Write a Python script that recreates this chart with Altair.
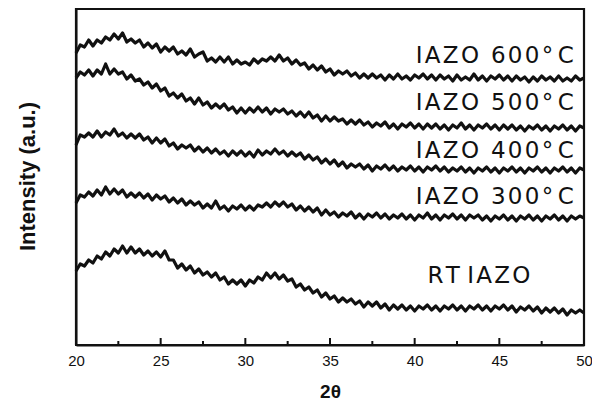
import altair as alt
import pandas as pd

# 2-theta grid: 20.00 .. 50.00 in 0.25 steps (121 points)
STEP = 0.25
X_START = 20.0

# Intensities (a.u.), one row per degree (x.00, x.25, x.50, x.75)
rt = [74, 81, 79, 85,   82, 89, 86, 93,   89, 96, 92, 99,   92, 98, 92, 96,
      90, 94, 89, 93,   88, 94, 85, 85,   77, 81, 75, 79,   72, 76, 70, 73,
      68, 72, 65, 68,   61, 65, 61, 65,   59, 65, 62, 68,   65, 72, 67, 72,
      66, 70, 64, 66,   58, 61, 55, 58,   52, 55, 48, 52,   46, 49, 43, 47,
      43, 46, 41, 44,   38, 43, 39, 43,   37, 41, 35, 40,   36, 40, 35, 39,
      34, 39, 36, 40,   35, 39, 34, 39,   36, 40, 35, 39,   34, 39, 36, 40,
      35, 39, 34, 39,   36, 40, 35, 39,   33, 38, 35, 39,   34, 38, 32, 37,
      33, 37, 32, 36,   30, 35, 32, 35,   32]
iazo300 = [142, 150, 148, 153,   149, 155, 150, 158,   151, 156, 151, 155,   148, 152, 148, 152,
           147, 151, 145, 150,   146, 149, 143, 147,   142, 146, 140, 144,   140, 143, 137, 141,
           137, 144, 136, 139,   134, 139, 136, 140,   135, 139, 135, 140,   138, 142, 138, 143,
           139, 143, 138, 141,   135, 139, 134, 138,   133, 137, 130, 135,   130, 133, 128, 132,
           129, 133, 127, 131,   126, 131, 128, 132,   127, 131, 126, 130,   127, 131, 126, 130,
           125, 130, 127, 132,   126, 130, 125, 130,   127, 131, 126, 130,   125, 130, 127, 130,
           125, 129, 124, 129,   126, 130, 125, 129,   124, 129, 126, 130,   125, 129, 124, 129,
           126, 130, 125, 129,   124, 129, 126, 129,   127]
iazo400 = [200, 210, 208, 212,   208, 214, 208, 213,   210, 216, 209, 212,   207, 211, 207, 211,
           205, 208, 202, 207,   202, 206, 199, 202,   196, 200, 197, 200,   194, 198, 193, 197,
           192, 196, 191, 194,   189, 194, 190, 194,   189, 193, 188, 195,   190, 194, 191, 196,
           191, 194, 189, 193,   189, 192, 186, 190,   185, 188, 182, 186,   181, 185, 179, 183,
           177, 181, 178, 181,   176, 180, 174, 179,   176, 180, 175, 179,   174, 178, 175, 179,
           174, 178, 173, 178,   175, 179, 174, 178,   173, 177, 174, 178,   173, 177, 172, 177,
           174, 178, 173, 177,   172, 177, 174, 178,   173, 177, 172, 177,   174, 178, 173, 177,
           172, 177, 174, 178,   173, 177, 172, 177,   175]
iazo500 = [267, 273, 270, 275,   269, 275, 271, 281,   271, 276, 271, 273,   266, 270, 264, 266,
           260, 263, 257, 261,   254, 257, 249, 252,   247, 251, 244, 247,   241, 247, 240, 243,
           237, 241, 237, 241,   235, 238, 232, 237,   232, 237, 233, 238,   233, 237, 231, 236,
           233, 236, 231, 234,   229, 233, 228, 233,   227, 230, 224, 229,   224, 228, 224, 226,
           221, 225, 221, 225,   220, 223, 218, 222,   219, 223, 217, 221,   216, 221, 218, 222,
           217, 221, 216, 221,   217, 221, 216, 220,   215, 220, 217, 222,   216, 220, 215, 220,
           217, 221, 216, 220,   215, 220, 216, 220,   215, 219, 214, 219,   216, 220, 215, 219,
           214, 219, 216, 220,   215, 219, 214, 219,   217]
iazo600 = [292, 300, 298, 305,   299, 305, 302, 308,   305, 311, 306, 312,   303, 306, 302, 305,
           298, 302, 297, 301,   293, 298, 294, 298,   291, 294, 290, 296,   288, 291, 293, 284,
           287, 283, 288, 283,   288, 281, 285, 281,   283, 280, 286, 282,   286, 284, 288, 284,
           290, 284, 287, 281,   285, 280, 282, 276,   280, 275, 279, 273,   276, 270, 274, 271,
           274, 269, 272, 267,   271, 267, 271, 267,   270, 265, 270, 266,   271, 266, 269, 265,
           270, 267, 271, 266,   270, 265, 270, 266,   269, 264, 270, 265,   268, 265, 271, 265,
           269, 264, 269, 266,   270, 265, 269, 264,   269, 265, 268, 263,   268, 264, 269, 265,
           268, 264, 269, 264,   267, 264, 269, 265,   267]

series = {"RT": rt, "300": iazo300, "400": iazo400, "500": iazo500, "600": iazo600}

HS = "\u200a"  # hair space: the original print has wide letter spacing
TS = "\u2009"  # thin space


def spaced(word):
    return HS.join(word)


temps = ["600", "500", "400", "300"]
labels = [spaced("IAZO") + " " + TS + spaced(t) + HS + "°" + TS + "C" for t in temps]
label_x = [49.4, 49.4, 49.4, 49.4]
label_y = [289, 242, 194, 148]
rt_label = [spaced("RT") + " " + spaced("IAZO")]
rt_label_x = [43.8]
rt_label_y = [69]

x_min, x_max = 20, 50
y_min, y_max = 0, 336
major_ticks = [20, 25, 30, 35, 40, 45, 50]
minor_ticks = [22.5, 27.5, 32.5, 37.5, 42.5, 47.5]
major_len = 7
minor_len = 4

INK = "#111111"

# one single table for every layer
rows = []
for name, vals in series.items():
    for i, v in enumerate(vals):
        rows.append({"kind": "curve", "px": X_START + STEP * i, "py": v, "g": name, "o": i, "lab": ""})
for i, (fx, fy) in enumerate([(x_min, y_min), (x_max, y_min), (x_max, y_max),
                              (x_min, y_max), (x_min, y_min)]):
    rows.append({"kind": "frame", "px": fx, "py": fy, "g": "frame", "o": i, "lab": ""})
for t in major_ticks:
    rows.append({"kind": "tick", "px": t, "py": y_min, "g": f"M{t}", "o": 0, "lab": ""})
    rows.append({"kind": "tick", "px": t, "py": y_min + major_len, "g": f"M{t}", "o": 1, "lab": ""})
for t in minor_ticks:
    rows.append({"kind": "tick", "px": t, "py": y_min, "g": f"m{t}", "o": 0, "lab": ""})
    rows.append({"kind": "tick", "px": t, "py": y_min + minor_len, "g": f"m{t}", "o": 1, "lab": ""})
for lx, ly, lab in zip(label_x, label_y, labels):
    rows.append({"kind": "label", "px": lx, "py": ly, "g": "lab", "o": 0, "lab": lab})
for lx, ly, lab in zip(rt_label_x, rt_label_y, rt_label):
    rows.append({"kind": "rtlabel", "px": lx, "py": ly, "g": "lab", "o": 0, "lab": lab})
df = pd.DataFrame(rows)

xscale = alt.Scale(domain=[x_min, x_max], nice=False, zero=False)
yscale = alt.Scale(domain=[y_min, y_max], nice=False, zero=False)

FONT = "Liberation Sans"
LFONT = "DejaVu Sans"

base = alt.Chart(df)

x_enc = alt.X("px:Q", scale=xscale,
              axis=alt.Axis(values=major_ticks, ticks=False, domain=True, domainColor=INK,
                            domainWidth=2, grid=False,
                            labelFont=FONT, labelFontSize=15, labelColor=INK,
                            labelPadding=8, title="2θ", titleFont=FONT, titleFontSize=19,
                            titleFontWeight="bold", titleColor=INK, titlePadding=14,
                            labelFlush=False))
y_enc = alt.Y("py:Q", scale=yscale,
              axis=alt.Axis(labels=False, ticks=False, domain=True, domainColor=INK,
                            domainWidth=2, grid=False,
                            title="Intensity (a.u.)", titleFont=FONT, titleFontSize=22,
                            titleFontWeight="bold", titleColor=INK,
                            titleX=-49, titleY=167, titleAngle=270, titleAlign="center",
                            titleBaseline="middle"))

lines = base.transform_filter(alt.datum.kind == "curve").mark_line(
    color=INK, strokeWidth=3.2, strokeJoin="round").encode(
    x=x_enc, y=y_enc, detail="g:N", order="o:Q")
frame = base.transform_filter(alt.datum.kind == "frame").mark_line(
    color=INK, strokeWidth=2.2).encode(x=x_enc, y=y_enc, order="o:Q")
ticks = base.transform_filter(alt.datum.kind == "tick").mark_line(
    color=INK, strokeWidth=2).encode(x=x_enc, y=y_enc, detail="g:N", order="o:Q")
txt = base.transform_filter(alt.datum.kind == "label").mark_text(
    align="right", baseline="middle", font=LFONT, fontSize=23, color=INK).encode(
    x=x_enc, y=y_enc, text="lab:N")
txt_rt = base.transform_filter(alt.datum.kind == "rtlabel").mark_text(
    align="center", baseline="middle", font=LFONT, fontSize=23, color=INK).encode(
    x=x_enc, y=y_enc, text="lab:N")

chart = alt.layer(lines, frame, ticks, txt, txt_rt).properties(
    width=508, height=336, autosize="none",
    padding={"left": 68, "top": 1, "right": 8, "bottom": 60},
).configure_view(stroke=INK, strokeWidth=2)

chart.save("out.html", embed_options={"renderer": "svg", "actions": False})
